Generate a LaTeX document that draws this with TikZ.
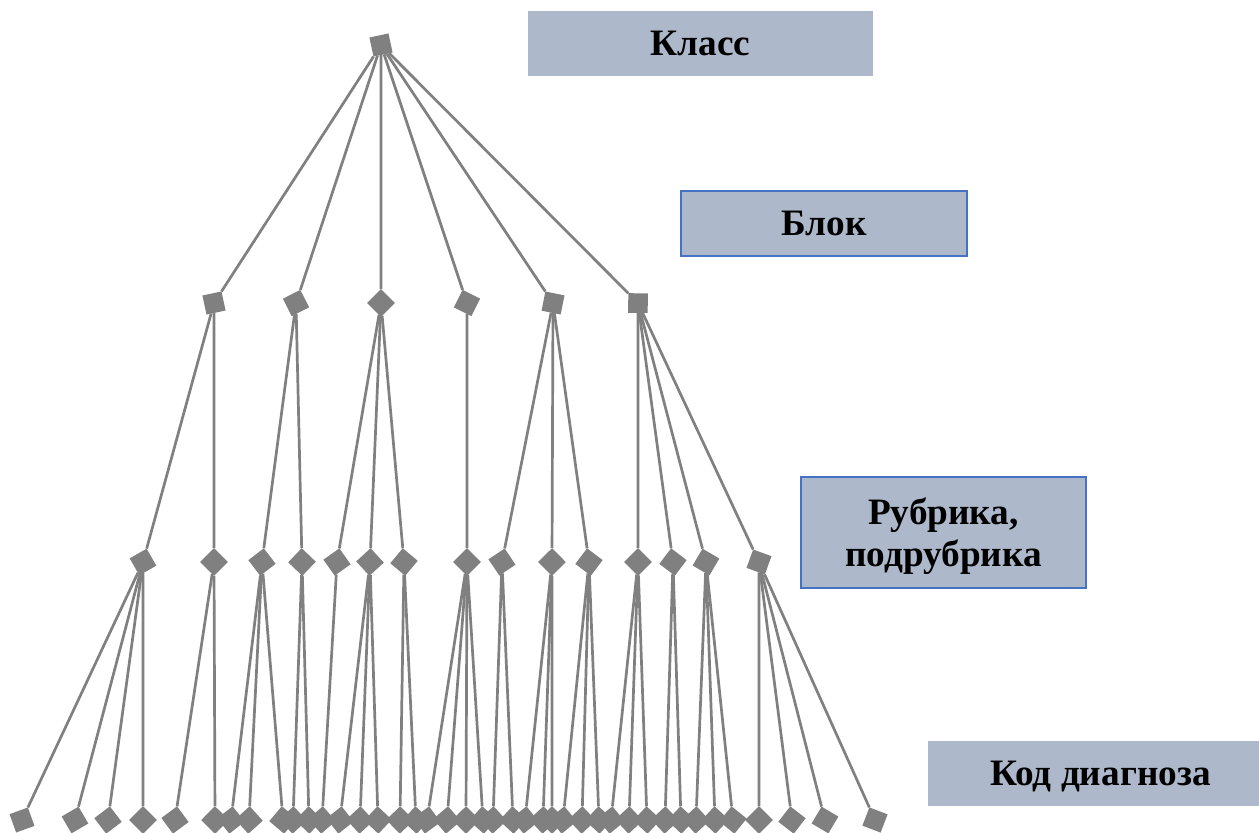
\documentclass[tikz,border=0pt]{standalone}
\usepackage{fontspec}
\setmainfont{Liberation Serif}

\definecolor{grey}{HTML}{808080}
\definecolor{slate}{HTML}{ADB9CA}
\definecolor{rim}{HTML}{4472C4}

\tikzset{
  vtx/.style={fill=grey,minimum size=0.195cm,inner sep=0pt,outer sep=0pt},
  edge/.style={grey,line width=0.027cm},
  lvl/.style={fill=slate,font=\bfseries\fontsize{10.6}{12}\selectfont,align=center,inner sep=0pt,text depth=0pt},
  rimmed/.style={draw=rim,line width=0.015cm}
}

\begin{document}
\begin{tikzpicture}[x=0.01cm,y=-0.01cm]
\useasboundingbox (0,0) rectangle (1259,832);
% level labels
\node[lvl,minimum width=3.45cm,minimum height=0.65cm] (cls) at (700.5,43.5) {Класс};
\node[lvl,rimmed,minimum width=2.86cm,minimum height=0.65cm] (blk) at (824,223.5) {Блок};
\node[lvl,rimmed,minimum width=2.85cm,minimum height=1.11cm] (rub) at (943.5,532.5) {Рубрика,\\подрубрика};
\node[lvl,minimum width=3.45cm,minimum height=0.65cm] (code) at (1100.5,773.5) {Код диагноза};
% class
\node[vtx,rotate=12] (k) at (381,45) {};
% blocks
\foreach \cx [count=\i] in {214,296,381,467,553,638}{
  \pgfmathsetmacro\r{atan2(-258,\cx-381)+135}
  \node[vtx,rotate=\r] (b\i) at (\cx,303) {};
  \draw[edge] (k) -- (b\i);
}
% rubrics
\foreach \p/\px/\kids in {b1/214/{143,214},b2/296/{262,302},b3/381/{337,370,404},
  b4/467/{467},b5/553/{502,552,589},b6/638/{638,673,706,759}}{
  \foreach \cx [count=\i] in \kids{
    \pgfmathsetmacro\r{atan2(-259,\cx-\px)+135}
    \node[vtx,rotate=\r] (\p-\i) at (\cx,562) {};
    \draw[edge] (\p) -- (\p-\i);
  }
}
% codes
\foreach \p/\px/\kids in {b1-1/143/{22,75,108,143},b1-2/214/{175,215},
  b2-1/262/{231,249,283},b2-2/302/{293,309},b3-1/337/{322},b3-2/370/{340,360,378},
  b3-3/404/{400,416},b4-1/467/{427,447,466,483},b5-1/502/{493,513},
  b5-2/552/{525,543,552},b5-3/589/{563,582,599},b6-1/638/{611,629,647},
  b6-2/673/{665,681},b6-3/706/{696,715,733},b6-4/759/{759,792,825,875}}{
  \foreach \cx [count=\i] in \kids{
    \pgfmathsetmacro\r{atan2(-258,\cx-\px)+135}
    \node[vtx,rotate=\r] (\p-\i) at (\cx,820) {};
    \draw[edge] (\p) -- (\p-\i);
  }
}
\end{tikzpicture}
\end{document}
